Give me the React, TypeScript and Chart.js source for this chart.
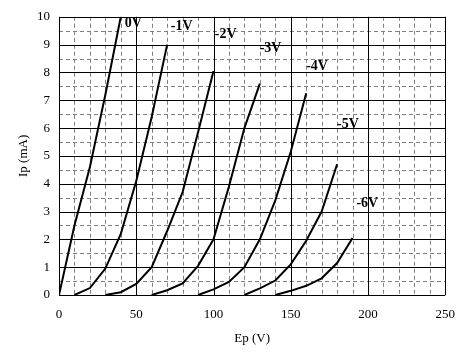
import React, { useEffect, useRef } from "react";
import { Chart, registerables } from "chart.js";

Chart.register(...registerables);

// Plate voltage (V) / plate current (mA) for each grid voltage curve
const ep0V = [0, 10, 20, 30, 40];
const ip0V = [0, 2.5, 4.6, 7.2, 10.0];
const epM1V = [10, 20, 30, 40, 50, 60, 70];
const ipM1V = [0, 0.25, 0.95, 2.2, 4.1, 6.4, 9.0];
const epM2V = [30, 40, 50, 60, 70, 80, 90, 100];
const ipM2V = [0, 0.1, 0.4, 1.0, 2.3, 3.7, 5.85, 8.05];
const epM3V = [60, 70, 80, 90, 100, 110, 120, 130];
const ipM3V = [0, 0.17, 0.42, 1.05, 2.0, 3.9, 6.0, 7.6];
const epM4V = [90, 100, 110, 120, 130, 140, 150, 160];
const ipM4V = [0, 0.2, 0.47, 1.0, 2.0, 3.4, 5.15, 7.25];
const epM5V = [120, 130, 140, 150, 160, 170, 180];
const ipM5V = [0, 0.24, 0.52, 1.1, 1.95, 3.0, 4.7];
const epM6V = [140, 150, 160, 170, 180, 190];
const ipM6V = [0, 0.15, 0.33, 0.6, 1.15, 2.05];

const curveNames = ["0V", "-1V", "-2V", "-3V", "-4V", "-5V", "-6V"];
const curveEp = [ep0V, epM1V, epM2V, epM3V, epM4V, epM5V, epM6V];
const curveIp = [ip0V, ipM1V, ipM2V, ipM3V, ipM4V, ipM5V, ipM6V];
// label anchor points (data coordinates)
const labelEp = [42.6, 72.4, 100.8, 129.9, 160, 180, 192.5];
const labelIp = [9.76, 9.67, 9.38, 8.86, 8.2, 6.15, 3.3];

const xMin = 0, xMax = 250, xMajor = 50, xMinor = 10;
const yMin = 0, yMax = 10, yMajor = 1, yMinor = 0.5;

const FONT = "'Times New Roman', 'Liberation Serif', serif";

const gridPlugin = {
  id: "tubeGrid",
  beforeDatasetsDraw(chart: any) {
    const { ctx, chartArea, scales } = chart;
    const xs = scales.x, ys = scales.y;
    const { left, right, top, bottom } = chartArea;
    const snap = (v: number) => Math.round(v) + 0.5;
    ctx.save();
    ctx.lineWidth = 1;
    // minor dashed
    ctx.strokeStyle = "#808080";
    ctx.setLineDash([4, 3]);
    ctx.beginPath();
    for (let v = xMin + xMinor; v < xMax; v += xMinor) {
      if (Math.abs(v / xMajor - Math.round(v / xMajor)) < 1e-6) continue;
      const px = snap(xs.getPixelForValue(v));
      ctx.moveTo(px, top);
      ctx.lineTo(px, bottom);
    }
    for (let v = yMin + yMinor; v < yMax; v += yMinor) {
      if (Math.abs(v / yMajor - Math.round(v / yMajor)) < 1e-6) continue;
      const py = snap(ys.getPixelForValue(v));
      ctx.moveTo(left, py);
      ctx.lineTo(right, py);
    }
    ctx.stroke();
    // major solid
    ctx.setLineDash([]);
    ctx.strokeStyle = "#000000";
    ctx.beginPath();
    for (let v = xMin; v <= xMax + 1e-6; v += xMajor) {
      const px = snap(xs.getPixelForValue(v));
      ctx.moveTo(px, top);
      ctx.lineTo(px, bottom);
    }
    for (let v = yMin; v <= yMax + 1e-6; v += yMajor) {
      const py = snap(ys.getPixelForValue(v));
      ctx.moveTo(left, py);
      ctx.lineTo(right, py);
    }
    ctx.stroke();
    ctx.restore();
  },
  afterDatasetsDraw(chart: any) {
    const { ctx, scales } = chart;
    ctx.save();
    ctx.fillStyle = "#000";
    ctx.font = `bold 14px ${FONT}`;
    ctx.textAlign = "left";
    ctx.textBaseline = "middle";
    curveNames.forEach((name, i) => {
      ctx.fillText(name, scales.x.getPixelForValue(labelEp[i]), scales.y.getPixelForValue(labelIp[i]));
    });
    ctx.restore();
  },
};

export default function App() {
  const ref = useRef<HTMLCanvasElement | null>(null);
  useEffect(() => {
    if (!ref.current) return;
    const datasets = curveNames.map((name, i) => ({
      label: name,
      data: curveEp[i].map((x, j) => ({ x, y: curveIp[i][j] })),
      borderColor: "#000",
      borderWidth: 2,
      pointRadius: 0,
      fill: false,
      tension: 0,
    }));
    const chart = new Chart(ref.current, {
      type: "line",
      data: { datasets },
      plugins: [gridPlugin],
      options: {
        responsive: false,
        animation: false,
        events: [],
        layout: { padding: { left: 0, top: 9, right: 21, bottom: 0 } },
        plugins: { legend: { display: false }, tooltip: { enabled: false } },
        scales: {
          x: {
            type: "linear",
            min: xMin,
            max: xMax,
            grid: { display: false, drawTicks: false },
            border: { display: false },
            ticks: { stepSize: xMajor, color: "#000", padding: 12, font: { family: FONT, size: 13 } },
            title: { display: true, text: "Ep (V)", color: "#000", font: { family: FONT, size: 13 }, padding: { top: 0, bottom: 7 } },
            afterFit: (s: any) => { s.height = 58; },
          },
          y: {
            type: "linear",
            min: yMin,
            max: yMax,
            grid: { display: false, drawTicks: false },
            border: { display: false },
            ticks: { stepSize: yMajor, color: "#000", padding: 9, font: { family: FONT, size: 13 } },
            title: { display: true, text: "Ip (mA)", color: "#000", font: { family: FONT, size: 13 }, padding: { top: 16, bottom: 0 } },
            afterFit: (s: any) => { s.width = 59; },
          },
        },
      },
    });
    return () => chart.destroy();
  }, []);
  return (
    <div style={{ position: "fixed", left: 0, top: 0, width: 467, height: 353, background: "#fff" }}>
      <canvas ref={ref} width={467} height={353} style={{ display: "block" }} />
    </div>
  );
}
